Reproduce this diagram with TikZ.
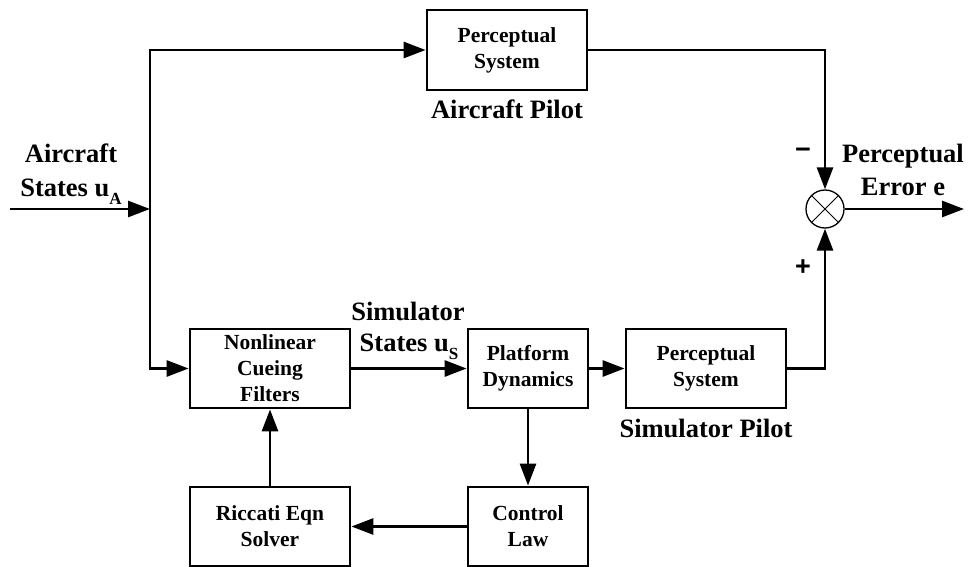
\documentclass[tikz,border=0pt]{standalone}
\usepackage{fontspec}
\setmainfont{Liberation Serif}
\newfontfamily\signfont{Liberation Sans}
\usetikzlibrary{arrows.meta}
\tikzset{
  blk/.style={draw, line width=2.8pt, inner sep=0pt, align=center,
    font=\fontsize{21.5}{26}\selectfont\bfseries},
  lbl/.style={inner sep=0pt, anchor=base, font=\fontsize{26.5}{32}\selectfont\bfseries},
  sgn/.style={inner sep=0pt, anchor=center, font=\signfont\fontsize{27}{27}\selectfont\bfseries},
  wire/.style={line width=2.8pt},
  arr/.style={wire, -{Triangle[length=22pt,width=16pt]}},
  sumj/.style={draw, circle, line width=1.3pt, minimum size=38pt, inner sep=0pt}
}
\newcommand{\subA}[1]{\raisebox{-8pt}{\fontsize{17}{17}\selectfont #1}}
\begin{document}
\begin{tikzpicture}[x=1pt,y=-1pt]
\useasboundingbox (0,0) rectangle (969,567);
% blocks
\node[blk, minimum width=160pt, minimum height=80pt] (top) at (507,50) {Perceptual\\System};
\node[blk, minimum width=160pt, minimum height=79pt] (nl) at (270,368.5) {Nonlinear\\Cueing\\Filters};
\node[blk, minimum width=120pt, minimum height=79pt] (pd) at (528,368.5) {Platform\\Dynamics};
\node[blk, minimum width=160pt, minimum height=79pt] (ps) at (706,368.5) {Perceptual\\System};
\node[blk, minimum width=160pt, minimum height=79pt] (ric) at (270,526.5) {Riccati Eqn\\Solver};
\node[blk, minimum width=120pt, minimum height=79pt] (cl) at (528,526.5) {Control\\Law};
\node[sumj] (sum) at (825,209) {};
\draw[line width=0.9pt] (sum.north east) -- (sum.south west);
\draw[line width=0.9pt] (sum.north west) -- (sum.south east);
% coordinates
\coordinate (in) at (10,209);
\coordinate (split) at (150,209);
\coordinate (jt) at (150,50);
\coordinate (jb) at (150,368.5);
\coordinate (out) at (964,209);
% connectors
\draw[arr] (in) -- (split);
\draw[wire, line cap=rect] (jt) -- (jb);
\draw[arr] (jt) -- (top);
\draw[arr] (jb) -- (nl);
\draw[arr] (nl) -- (pd);
\draw[arr] (pd) -- (ps);
\draw[arr] (top) -| (sum);
\draw[arr] (ps) -| (sum);
\draw[arr] (sum) -- (out);
\draw[arr] (pd) -- (cl);
\draw[arr] (cl) -- (ric);
\draw[arr] (ric) -- (nl);
% labels
\node[lbl] (l1) at (71,163) {Aircraft};
\node[lbl] (l2) at (71,196) {States u\subA{A}};
\node[lbl] (l3) at (408,320) {Simulator};
\node[lbl] (l4) at (409,351) {States u\subA{S}};
\node[lbl] (l5) at (903,163) {Perceptual};
\node[lbl] (l6) at (903,195) {Error e};
\node[lbl] (l7) at (507,119) {Aircraft Pilot};
\node[lbl] (l8) at (706,437) {Simulator Pilot};
\node[sgn] (mn) at (803,153) {−};
\node[sgn] (pl) at (803,268) {+};
\end{tikzpicture}
\end{document}
